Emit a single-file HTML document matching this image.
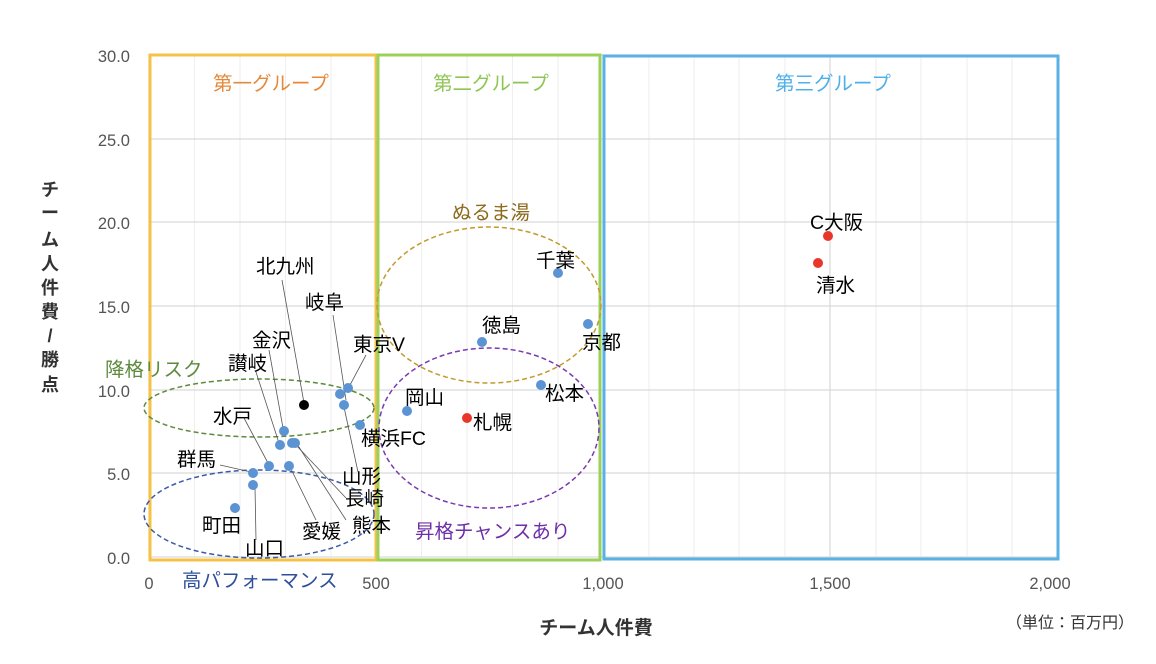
<!DOCTYPE html>
<html><head><meta charset="utf-8"><style>
body{margin:0;background:#fff;}
svg text{font-family:"Liberation Sans","Noto Sans CJK JP",sans-serif;}
</style></head><body>
<svg width="1156" height="659" viewBox="0 0 1156 659" xmlns="http://www.w3.org/2000/svg">
<rect width="1156" height="659" fill="#fff"/>
<g stroke="#eeeeee" stroke-width="1">
<line x1="194.5" y1="55" x2="194.5" y2="557"/><line x1="240" y1="55" x2="240" y2="557"/><line x1="285.5" y1="55" x2="285.5" y2="557"/><line x1="331" y1="55" x2="331" y2="557"/>
<line x1="421.5" y1="55" x2="421.5" y2="557"/><line x1="467" y1="55" x2="467" y2="557"/><line x1="512.5" y1="55" x2="512.5" y2="557"/><line x1="558" y1="55" x2="558" y2="557"/>
<line x1="649" y1="55" x2="649" y2="557"/><line x1="694" y1="55" x2="694" y2="557"/><line x1="739" y1="55" x2="739" y2="557"/><line x1="785" y1="55" x2="785" y2="557"/>
<line x1="876" y1="55" x2="876" y2="557"/><line x1="921" y1="55" x2="921" y2="557"/><line x1="967" y1="55" x2="967" y2="557"/><line x1="1012" y1="55" x2="1012" y2="557"/>
</g>
<g stroke="#d9d9d9" stroke-width="1.2">
<line x1="149" y1="55" x2="1058" y2="55"/><line x1="149" y1="139" x2="1058" y2="139"/><line x1="149" y1="222" x2="1058" y2="222"/><line x1="149" y1="306" x2="1058" y2="306"/><line x1="149" y1="390" x2="1058" y2="390"/><line x1="149" y1="473" x2="1058" y2="473"/><line x1="149" y1="557" x2="1058" y2="557"/>
<line x1="149" y1="55" x2="149" y2="557"/><line x1="376" y1="55" x2="376" y2="557"/><line x1="603" y1="55" x2="603" y2="557"/><line x1="830" y1="55" x2="830" y2="557"/><line x1="1058" y1="55" x2="1058" y2="557"/>
</g>
<rect x="150" y="55" width="226" height="505" fill="none" stroke="#f6c244" stroke-width="3"/>
<rect x="378" y="55" width="222" height="505" fill="none" stroke="#9bd05b" stroke-width="3"/>
<rect x="604" y="56" width="454" height="503" fill="none" stroke="#5ab1e6" stroke-width="3"/>
<g fill="none" stroke-width="1.5" stroke-dasharray="5,3">
<ellipse cx="259" cy="408" rx="115" ry="29" stroke="#5d8a3c"/>
<ellipse cx="259" cy="514" rx="115" ry="44" stroke="#3b5ba8"/>
<ellipse cx="489" cy="305" rx="112" ry="78" stroke="#c29b2e"/>
<ellipse cx="489" cy="428" rx="110" ry="80" stroke="#7a3ab0"/>
</g>
<g stroke="#555" stroke-width="0.8">
<line x1="282" y1="280" x2="304" y2="403"/>
<line x1="333" y1="315" x2="346" y2="400"/>
<line x1="366" y1="355" x2="350" y2="385"/>
<line x1="269" y1="350" x2="283" y2="428"/>
<line x1="256" y1="372" x2="279" y2="443"/>
<line x1="244" y1="418" x2="268" y2="463"/>
<line x1="220" y1="465" x2="251" y2="472"/>
<line x1="255" y1="487" x2="256" y2="540"/>
<line x1="290" y1="467" x2="316" y2="520"/>
<line x1="297" y1="444" x2="346" y2="520"/>
<line x1="295" y1="444" x2="346" y2="498"/>
<line x1="344" y1="407" x2="358" y2="472"/>
</g>
<g fill="#5b93d3">
<circle cx="348" cy="388" r="5"/><circle cx="340" cy="394" r="5"/><circle cx="344" cy="405" r="5"/><circle cx="360" cy="425" r="5"/>
<circle cx="284" cy="431" r="5"/><circle cx="280" cy="445" r="5"/><circle cx="292" cy="443" r="5"/><circle cx="295" cy="443" r="5"/>
<circle cx="269" cy="466" r="5"/><circle cx="289" cy="466" r="5"/><circle cx="253" cy="473" r="5"/><circle cx="253" cy="485" r="5"/><circle cx="235" cy="508" r="5"/>
<circle cx="407" cy="411" r="5"/><circle cx="482" cy="342" r="5"/><circle cx="558" cy="273" r="5"/><circle cx="588" cy="324" r="5"/><circle cx="541" cy="385" r="5"/>
</g>
<circle cx="304" cy="405" r="5" fill="#000"/>
<g fill="#e8372a"><circle cx="467" cy="418" r="5"/><circle cx="828" cy="236" r="5"/><circle cx="818" cy="263" r="5"/></g>
<g font-size="19.5" fill="#000">
<text x="256" y="273">北九州</text><text x="305" y="309">岐阜</text><text x="252" y="347">金沢</text><text x="228" y="370">讃岐</text>
<text x="353" y="351">東京V</text><text x="213" y="423">水戸</text><text x="177" y="466">群馬</text><text x="202" y="532">町田</text>
<text x="245" y="555">山口</text><text x="302" y="538">愛媛</text><text x="352" y="532">熊本</text><text x="345" y="505">長崎</text><text x="342" y="483">山形</text>
<text x="361" y="445">横浜FC</text><text x="405" y="404">岡山</text><text x="473" y="429">札幌</text><text x="482" y="332">徳島</text>
<text x="536" y="267">千葉</text><text x="582" y="349">京都</text><text x="545" y="400">松本</text>
<text x="810" y="229">C大阪</text><text x="816" y="292">清水</text>
</g>
<g font-size="19.5">
<text x="213" y="90" fill="#e58a3c">第一グループ</text>
<text x="433" y="90" fill="#8fc555">第二グループ</text>
<text x="775" y="90" fill="#4fb0e8">第三グループ</text>
<text x="452" y="219" fill="#8c6a1c">ぬるま湯</text>
<text x="105" y="376" fill="#5d8a3c">降格リスク</text>
<text x="182" y="587" fill="#2e4f9c">高パフォーマンス</text>
<text x="415" y="538" fill="#6f2fa8">昇格チャンスあり</text>
</g>
<g font-size="16.5" fill="#555" text-anchor="end">
<text x="130" y="62">30.0</text><text x="130" y="146">25.0</text><text x="130" y="229">20.0</text><text x="130" y="313">15.0</text><text x="130" y="397">10.0</text><text x="130" y="480">5.0</text><text x="130" y="564">0.0</text>
</g>
<g font-size="16.5" fill="#555" text-anchor="middle">
<text x="149" y="589">0</text><text x="376" y="589">500</text><text x="603" y="589">1,000</text><text x="830" y="589">1,500</text><text x="1050" y="589">2,000</text>
</g>
<text x="596" y="634" font-size="19" font-weight="bold" text-anchor="middle" fill="#333">チーム人件費</text>
<text x="1070" y="628" font-size="16" text-anchor="middle" fill="#333">（単位：百万円）</text>
<g font-size="18" font-weight="bold" fill="#333" text-anchor="middle">
<text x="50" y="196">チ</text><text x="50" y="219">ー</text><text x="50" y="246">ム</text><text x="50" y="270">人</text><text x="50" y="294">件</text><text x="50" y="318">費</text><text x="50" y="342">/</text><text x="50" y="366">勝</text><text x="50" y="391">点</text>
</g>
</svg>
</body></html>
